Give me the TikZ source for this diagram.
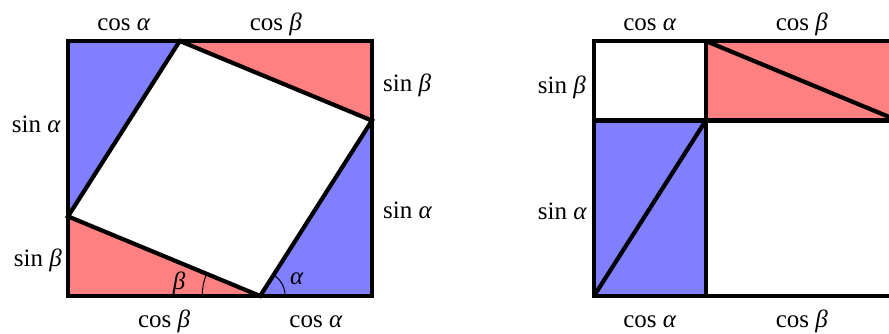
\documentclass[tikz,border=0pt]{standalone}
\usepackage{fontspec}
\setmainfont{Liberation Serif}
\usetikzlibrary{calc}

\begin{document}
\begin{tikzpicture}[
  x=1pt, y=1pt,
  font=\fontsize{25}{30}\selectfont,
  edge/.style={line width=4.2pt, black},
  bluepart/.style={fill=blue!50},
  redpart/.style={fill=red!50},
  lbl/.style={inner sep=0pt},
  anglearc/.style={line width=1pt, black},
]
\def\R{208}
\pgfmathsetmacro\ca{\R*cos(57.5)}
\pgfmathsetmacro\sa{\R*sin(57.5)}
\pgfmathsetmacro\cb{\R*cos(22.5)}
\pgfmathsetmacro\sb{\R*sin(22.5)}
\clip (0,0) rectangle (889,334);

% Left square: corners and the four vertices of the inner square
\coordinate (LA) at (68,38);
\coordinate (LB) at ({68+\cb+\ca},38);
\coordinate (LC) at ({68+\cb+\ca},{38+\sa+\sb});
\coordinate (LD) at (68,{38+\sa+\sb});
\coordinate (P1) at ({68+\cb},38);
\coordinate (P2) at ({68+\cb+\ca},{38+\sa});
\coordinate (P3) at ({68+\ca},{38+\sa+\sb});
\coordinate (P4) at (68,{38+\sb});

\fill[redpart] (LA) -- (P1) -- (P4) -- cycle;
\fill[bluepart] (P1) -- (LB) -- (P2) -- cycle;
\fill[redpart] (P2) -- (LC) -- (P3) -- cycle;
\fill[bluepart] (P3) -- (LD) -- (P4) -- cycle;
\draw[edge] (LA) -- (LB) -- (LC) -- (LD) -- cycle;
\draw[edge] (P1) -- (P2) -- (P3) -- (P4) -- cycle;

% Angles at the bottom vertex
\draw[anglearc] ($(P1)+(-58,0)$) arc[start angle=180, end angle=157.5, radius=58];
\draw[anglearc] ($(P1)+(25,0)$) arc[start angle=0, end angle=57.5, radius=25];
\node[lbl] (angb) at (179,51) {\textit{β}};
\node[lbl] (anga) at (297,55) {\textit{α}};

% Side labels, left square
\node[lbl, anchor=base] (lt1) at ($(LD)!0.5!(P3)+(0,10)$) {cos \textit{α}};
\node[lbl, anchor=base] (lt2) at ($(P3)!0.5!(LC)+(0,10)$) {cos \textit{β}};
\node[lbl, anchor=base] (lb1) at ($(LA)!0.5!(P1)+(0,-32)$) {cos \textit{β}};
\node[lbl, anchor=base] (lb2) at ($(P1)!0.5!(LB)+(0,-32)$) {cos \textit{α}};
\node[lbl, anchor=base east] (ll1) at (61,201) {sin \textit{α}};
\node[lbl, anchor=base east] (ll2) at (62,67) {sin \textit{β}};
\node[lbl, anchor=base west] (lr1) at (383,242) {sin \textit{β}};
\node[lbl, anchor=base west] (lr2) at (383,115) {sin \textit{α}};

% Right square: rearranged pieces
\coordinate (RA) at (594,38);
\coordinate (RB) at ({594+\ca+\cb},38);
\coordinate (RC) at ({594+\ca+\cb},{38+\sa+\sb});
\coordinate (RD) at (594,{38+\sa+\sb});
\coordinate (Q1) at ({594+\ca},38);
\coordinate (Q2) at ({594+\ca},{38+\sa});
\coordinate (Q3) at ({594+\ca},{38+\sa+\sb});
\coordinate (Q4) at (594,{38+\sa});
\coordinate (Q5) at ({594+\ca+\cb},{38+\sa});

\fill[bluepart] (RA) rectangle (Q2);
\fill[redpart] (Q2) rectangle (RC);
\draw[edge] (RA) -- (RB) -- (RC) -- (RD) -- cycle;
\draw[edge] (Q1) -- (Q3);
\draw[edge] (Q4) -- (Q5);
\draw[edge] (RA) -- (Q2);
\draw[edge] (Q3) -- (Q5);

% Side labels, right square
\node[lbl, anchor=base] (rt1) at ($(RD)!0.5!(Q3)+(0,10)$) {cos \textit{α}};
\node[lbl, anchor=base] (rt2) at ($(Q3)!0.5!(RC)+(0,10)$) {cos \textit{β}};
\node[lbl, anchor=base] (rb1) at ($(RA)!0.5!(Q1)+(0,-32)$) {cos \textit{α}};
\node[lbl, anchor=base] (rb2) at ($(Q1)!0.5!(RB)+(0,-32)$) {cos \textit{β}};
\node[lbl, anchor=base east] (rl1) at (586,240) {sin \textit{β}};
\node[lbl, anchor=base east] (rl2) at (587,114) {sin \textit{α}};
\end{tikzpicture}
\end{document}
